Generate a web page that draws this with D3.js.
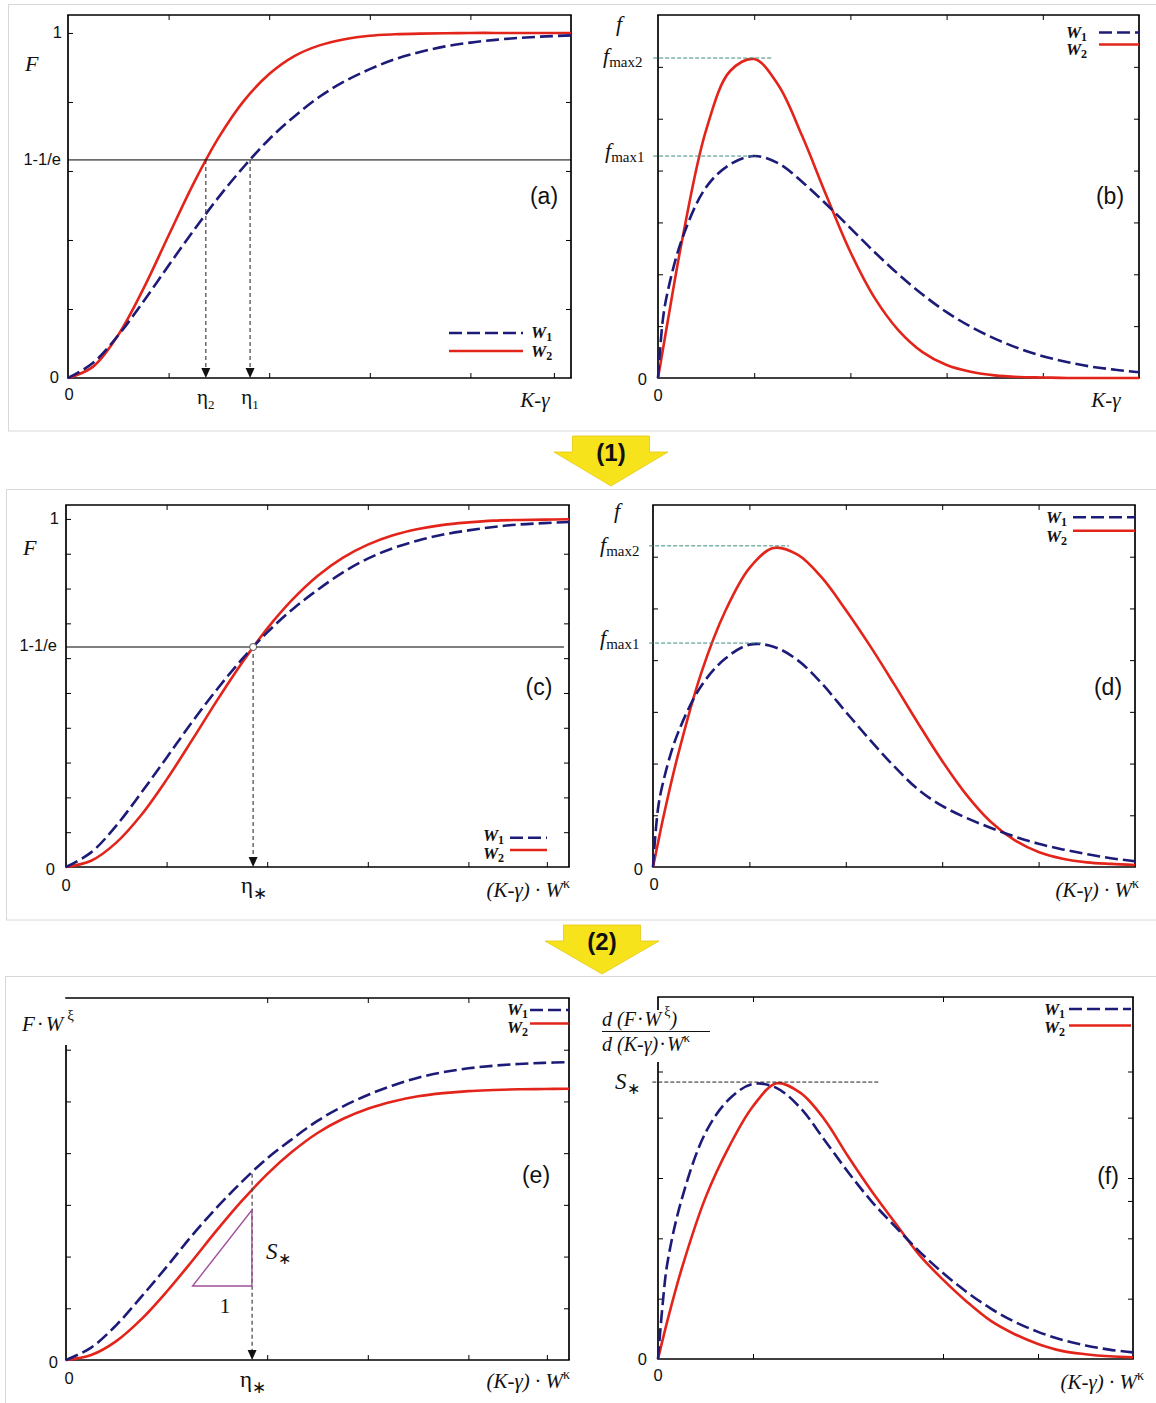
<!DOCTYPE html>
<html><head><meta charset="utf-8">
<script src="https://cdn.jsdelivr.net/npm/d3@7"></script>
<style>body{margin:0;background:#fff} svg{display:block}</style>
</head><body>
<svg id="c" width="1156" height="1403"></svg>
<script>
// ---------------- DATA ----------------
const xGrid = [0,0.25,0.5,0.75,1,1.25,1.5,1.75,2,2.25,2.5,2.75,3,3.25,3.5,3.75,4,4.25,4.5,4.75,5];
const xFine = [0,0.05,0.1,0.25,0.5,0.75,1,1.25,1.5,1.75,2,2.25,2.5,2.75,3,3.25,3.5,3.75,4,4.25,4.5,4.75,5];
const seriesNames = ["W1","W2"];

// (a) F vs K-γ
const aW1 = [0,0.044,0.124,0.222,0.326,0.428,0.525,0.613,0.692,0.758,0.815,0.860,0.895,0.924,0.945,0.961,0.972,0.980,0.986,0.990,0.993];
const aW2 = [0,0.033,0.125,0.259,0.413,0.565,0.698,0.804,0.881,0.933,0.964,0.982,0.992,0.996,0.998,0.999,1,1,1,1,1];
// (b) f vs K-γ
const bW1 = [0,0.112,0.166,0.268,0.368,0.412,0.428,0.414,0.378,0.335,0.289,0.243,0.200,0.161,0.127,0.099,0.076,0.057,0.042,0.031,0.022,0.016,0.011];
const bW2 = [0,0.054,0.108,0.265,0.478,0.592,0.615,0.565,0.466,0.352,0.243,0.155,0.092,0.050,0.025,0.012,0.005,0.002,0.001,0,0,0,0];
// (c) F vs (K-γ)·W^κ
const cW1 = [0,0.042,0.119,0.214,0.314,0.415,0.510,0.597,0.674,0.740,0.796,0.846,0.886,0.916,0.938,0.955,0.967,0.977,0.984,0.988,0.991];
const cW2 = [0,0.018,0.070,0.150,0.251,0.363,0.478,0.587,0.685,0.768,0.836,0.888,0.926,0.953,0.971,0.983,0.990,0.995,0.997,0.998,0.999];
// (d) f vs (K-γ)·W^κ
const dW1 = [0,0.110,0.160,0.255,0.350,0.403,0.430,0.426,0.400,0.355,0.300,0.246,0.195,0.150,0.118,0.095,0.076,0.059,0.045,0.034,0.025,0.017,0.011];
const dW2 = [0,0.045,0.090,0.210,0.375,0.495,0.578,0.617,0.604,0.560,0.497,0.428,0.354,0.278,0.205,0.140,0.088,0.052,0.029,0.016,0.009,0.006,0.004];
// (e) F·W^ξ
const eW1 = [0,0.048,0.135,0.245,0.360,0.480,0.590,0.690,0.780,0.855,0.925,0.980,1.025,1.062,1.092,1.113,1.128,1.138,1.145,1.149,1.152];
const eW2 = [0,0.019,0.073,0.158,0.264,0.381,0.502,0.616,0.719,0.806,0.878,0.932,0.972,1.000,1.020,1.032,1.040,1.044,1.047,1.048,1.049];
// (f) derivative
const fW1 = [0,0.185,0.320,0.530,0.750,0.862,0.912,0.898,0.832,0.727,0.620,0.522,0.438,0.357,0.285,0.222,0.168,0.124,0.090,0.064,0.045,0.031,0.022];
const fW2 = [0,0.065,0.128,0.300,0.535,0.705,0.838,0.914,0.882,0.795,0.672,0.556,0.450,0.345,0.263,0.190,0.127,0.083,0.050,0.027,0.016,0.009,0.0055];

// annotation values (data units)
const oneMinusInvE = 0.632;
const etaA = [1.37, 1.81];      // η2, η1
const etaC = 1.86, etaE = 1.85;
const fmaxB = [0.617, 0.428], fmaxBEnd = [1.19, 1.02];
const fmaxD = [0.621, 0.433], fmaxDEnd = [1.41, 1.14];
const sStar = 0.918, sStarEnd = 2.34;
const triE = [[1.258,0.286],[1.848,0.286],[1.848,0.58]];

// ---------------- DRAWING ----------------
const svg = d3.select('#c');
const SERIF = '"Liberation Serif","Times New Roman",serif';
const SANS = '"Liberation Sans",Arial,sans-serif';
const BLUE = '#1d1b78', RED = '#e3241b', TEAL = '#3d8c7e';

function rich(g, x, y, segs, o={}) {
  const t = g.append('text').attr('x',x).attr('y',y)
    .attr('text-anchor', o.anchor||'start')
    .attr('font-family', o.family||SERIF)
    .attr('font-size', o.size||20)
    .attr('font-style', o.style||'italic')
    .attr('font-weight', o.weight||'normal')
    .attr('fill', '#111');
  let cur = 0;
  segs.forEach(s => {
    if (typeof s === 'string') s = {t:s};
    const sp = t.append('tspan').text(s.t);
    const off = s.dy||0;
    if (off-cur !== 0) sp.attr('dy', off-cur);
    cur = off;
    if (s.size) sp.attr('font-size', s.size);
    if (s.style) sp.attr('font-style', s.style);
    if (s.weight) sp.attr('font-weight', s.weight);
    if (s.family) sp.attr('font-family', s.family);
    if (s.dx) sp.attr('dx', s.dx);
  });
  return t;
}
const sans = (g,x,y,t,anchor,size) => rich(g,x,y,[t],{family:SANS,style:'normal',size:size||16.5,anchor:anchor||'end'});

function clean(s){ s.select('.domain').remove(); s.selectAll('line').attr('stroke','#000').attr('stroke-width',1); }

function panel(cfg, xs, s1, s2) {
  const g = svg.append('g');
  const x = d3.scaleLinear().domain([0,5]).range([cfg.x0,cfg.x1]);
  const y = d3.scaleLinear().domain([0,cfg.yMax]).range([cfg.y1,cfg.y0]);
  const tl = 5;
  g.append('g').attr('transform',`translate(0,${cfg.y1})`).call(d3.axisBottom(x).tickValues(cfg.xtB).tickSize(-tl).tickFormat('')).call(clean);
  g.append('g').attr('transform',`translate(0,${cfg.y0})`).call(d3.axisTop(x).tickValues(cfg.xtT).tickSize(-tl).tickFormat('')).call(clean);
  g.append('g').attr('transform',`translate(${cfg.x0},0)`).call(d3.axisLeft(y).tickValues(cfg.ytL).tickSize(-tl).tickFormat('')).call(clean);
  g.append('g').attr('transform',`translate(${cfg.x1},0)`).call(d3.axisRight(y).tickValues(cfg.ytR).tickSize(-tl).tickFormat('')).call(clean);
  const bw = 1.7;
  const seg = (x1,y1,x2,y2) => g.append('line').attr('x1',x1).attr('y1',y1).attr('x2',x2).attr('y2',y2).attr('stroke','#000').attr('stroke-width',bw);
  seg(cfg.x0-0.8,cfg.y0,cfg.x1+0.8,cfg.y0);
  seg(cfg.x0-0.8,cfg.y1,cfg.x1+0.8,cfg.y1);
  seg(cfg.x1,cfg.y0,cfg.x1,cfg.y1);
  (cfg.leftSegs || [[cfg.y0,cfg.y1]]).forEach(s => seg(cfg.x0,s[0],cfg.x0,s[1]));
  const line = d3.line().x(d=>x(d[0])).y(d=>y(Math.max(0,d[1]))).curve(d3.curveCatmullRom.alpha(0.5));
  const cg = g.append('g');
  cfg.x = x; cfg.y = y; cfg.g = g;
  cfg.drawCurves = () => {
    cg.append('path').datum(xs.map((v,i)=>[v,s2[i]])).attr('d',line).attr('fill','none').attr('stroke',RED).attr('stroke-width',2.6);
    cg.append('path').datum(xs.map((v,i)=>[v,s1[i]])).attr('d',line).attr('fill','none').attr('stroke',BLUE).attr('stroke-width',2.6).attr('stroke-dasharray','13,5');
  };
  return cfg;
}

function legend(g, lx0, lx1, y1, y2, tx, tb1, tb2, anchor) {
  g.append('line').attr('x1',lx0).attr('x2',lx1).attr('y1',y1).attr('y2',y1).attr('stroke',BLUE).attr('stroke-width',2.6).attr('stroke-dasharray','13,5');
  g.append('line').attr('x1',lx0).attr('x2',lx1).attr('y1',y2).attr('y2',y2).attr('stroke',RED).attr('stroke-width',2.6);
  rich(g, tx, tb1, [{t:'W'},{t:'1',dy:3,size:12,style:'normal'}], {size:17,weight:'bold',anchor:anchor||'start'});
  rich(g, tx, tb2, [{t:'W'},{t:'2',dy:3,size:12,style:'normal'}], {size:17,weight:'bold',anchor:anchor||'start'});
}
function vArrow(g, px, yTop, yBot) {
  g.append('line').attr('x1',px).attr('x2',px).attr('y1',yTop).attr('y2',yBot-9).attr('stroke','#444').attr('stroke-width',1.2).attr('stroke-dasharray','4,3');
  g.append('path').attr('d',`M${px-4.5},${yBot-10} L${px+4.5},${yBot-10} L${px},${yBot} Z`).attr('fill','#111');
}
function hDash(g, x1, x2, py, color) {
  g.append('line').attr('x1',x1).attr('x2',x2).attr('y1',py).attr('y2',py).attr('stroke',color).attr('stroke-width',1).attr('stroke-dasharray','4,2');
}
const xLabel = (g, x, y) => rich(g, x, y, [{t:'(K-γ) · W'},{t:'κ',dy:-9,size:14,style:'normal'}], {size:21,anchor:'end'});

// group frames
svg.append('rect').attr('x',8.5).attr('y',4.5).attr('width',1160).attr('height',426.5).attr('fill','none').attr('stroke','#d8d8d8');
svg.append('rect').attr('x',6.5).attr('y',489.5).attr('width',1160).attr('height',430.5).attr('fill','none').attr('stroke','#d8d8d8');
svg.append('rect').attr('x',5.5).attr('y',976.5).attr('width',1160).attr('height',440).attr('fill','none').attr('stroke','#d8d8d8');

// yellow arrows
function yArrow(cx, top, shoulder, tip, label) {
  svg.append('path').attr('d',`M${cx-38.5},${top} L${cx+38.5},${top} L${cx+38.5},${shoulder} L${cx+57},${shoulder} L${cx},${tip} L${cx-57},${shoulder} L${cx-38.5},${shoulder} Z`)
    .attr('fill','#f7e31b').attr('stroke','#e6c812').attr('stroke-width',0.8);
  rich(svg, cx, top+25, [label], {family:SANS,style:'normal',weight:'bold',size:24,anchor:'middle'});
}
yArrow(611, 436, 452, 486, '(1)');
yArrow(602, 925, 941, 974, '(2)');

// ----- (a)
{
  const P = panel({x0:68,x1:571,y0:15,y1:378,yMax:1.052,xtB:[1,2,3,4,4.83],xtT:[1,2,3,4],ytL:[0.2,0.4,0.6,0.8,1],ytR:[0.2,0.4,0.6,0.8,1]}, xGrid, aW1, aW2);
  const {g,x,y} = P;
  g.append('line').attr('x1',x(0)).attr('x2',x(5)).attr('y1',y(oneMinusInvE)).attr('y2',y(oneMinusInvE)).attr('stroke','#000').attr('stroke-width',1);
  etaA.forEach(e => vArrow(g, x(e), y(oneMinusInvE), y(0)));
  P.drawCurves();
  rich(g, 25, 71, ['F'], {size:22});
  sans(g, 62, 38, '1'); sans(g, 61, 165, '1-1/e'); sans(g, 59, 383, '0');
  sans(g, x(0)+1, 400, '0', 'middle');
  rich(g, x(etaA[0]), 404, [{t:'η'},{t:'2',dy:5,size:13}], {style:'normal',size:21,anchor:'middle'});
  rich(g, x(etaA[1]), 404, [{t:'η'},{t:'1',dy:5,size:13}], {style:'normal',size:21,anchor:'middle'});
  rich(g, 535, 407, ['K-γ'], {size:21,anchor:'middle'});
  sans(g, 544, 204, '(a)', 'middle', 23);
  legend(g, 449, 523, 333, 351, 531, 338, 357);
}
// ----- (b)
{
  const P = panel({x0:658,x1:1139,y0:15,y1:378,yMax:0.7,xtB:[1,2,3,4],xtT:[1,2,3,4],ytL:[0.1,0.2,0.3,0.4,0.5,0.6],ytR:[0.1,0.2,0.3,0.4,0.5,0.6]}, xFine, bW1, bW2);
  const {g,x,y} = P;
  hDash(g, x(-0.05), x(fmaxBEnd[0]), y(fmaxB[0]), TEAL);
  hDash(g, x(-0.05), x(fmaxBEnd[1]), y(fmaxB[1]), TEAL);
  P.drawCurves();
  rich(g, 619, 31, ['f'], {size:22,anchor:'middle'});
  rich(g, 603, 63, [{t:'f'},{t:'max2',dy:4,size:15,style:'normal'}], {size:22});
  rich(g, 605, 158, [{t:'f'},{t:'max1',dy:4,size:15,style:'normal'}], {size:22});
  sans(g, 647, 385, '0');
  sans(g, x(0), 401, '0', 'middle');
  rich(g, 1106, 407, ['K-γ'], {size:21,anchor:'middle'});
  sans(g, 1110, 204, '(b)', 'middle', 23);
  legend(g, 1099, 1139, 32.5, 44.5, 1087, 38, 55, 'end');
}
// ----- (c)
{
  const P = panel({x0:66,x1:569,y0:505,y1:867,yMax:1.04,xtB:[1,2,3,4,4.78],xtT:[1,2,3,4],ytL:[0.1,0.2,0.3,0.4,0.5,0.6,0.7,0.8,0.9,1],ytR:[0.1,0.2,0.3,0.4,0.5,0.6,0.7,0.8,0.9,1]}, xGrid, cW1, cW2);
  const {g,x,y} = P;
  g.append('line').attr('x1',x(0)).attr('x2',x(4.95)).attr('y1',y(oneMinusInvE)).attr('y2',y(oneMinusInvE)).attr('stroke','#000').attr('stroke-width',1);
  vArrow(g, x(etaC), y(oneMinusInvE), y(0));
  P.drawCurves();
  g.append('circle').attr('cx',x(etaC)).attr('cy',y(oneMinusInvE)).attr('r',3.5).attr('fill','#fff').attr('stroke','#555').attr('stroke-width',1);
  rich(g, 23, 555, ['F'], {size:22});
  sans(g, 59, 524, '1'); sans(g, 57, 651, '1-1/e'); sans(g, 55, 875, '0');
  sans(g, x(0), 891, '0', 'middle');
  rich(g, x(etaC)+1, 893, [{t:'η'},{t:'∗',dy:6,size:17}], {style:'normal',size:23,anchor:'middle'});
  xLabel(g, 570, 897);
  sans(g, 539, 695, '(c)', 'middle', 23);
  legend(g, 510, 547, 837.7, 850, 504, 841, 859, 'end');
}
// ----- (d)
{
  const P = panel({x0:653,x1:1135,y0:505,y1:867,yMax:0.7,xtB:[1,2,3,4],xtT:[1,2,3,4],ytL:[0.1,0.2,0.3,0.4,0.5,0.6],ytR:[0.1,0.2,0.3,0.4,0.5,0.6]}, xFine, dW1, dW2);
  const {g,x,y} = P;
  hDash(g, x(-0.04), x(fmaxDEnd[0]), y(fmaxD[0]), TEAL);
  hDash(g, x(-0.04), x(fmaxDEnd[1]), y(fmaxD[1]), TEAL);
  P.drawCurves();
  rich(g, 617, 518, ['f'], {size:22,anchor:'middle'});
  rich(g, 600, 552, [{t:'f'},{t:'max2',dy:4,size:15,style:'normal'}], {size:22});
  rich(g, 600, 645, [{t:'f'},{t:'max1',dy:4,size:15,style:'normal'}], {size:22});
  sans(g, 643, 875, '0');
  sans(g, x(0)+1, 890, '0', 'middle');
  xLabel(g, 1139, 897);
  sans(g, 1108, 695, '(d)', 'middle', 23);
  legend(g, 1073, 1135, 517.3, 530.7, 1067, 523, 542, 'end');
}
// ----- (e)
{
  const P = panel({x0:66,x1:569,y0:998,y1:1360,yMax:1.4,xtB:[2,3,4,4.78],xtT:[2,3,4],ytL:[0.2,0.4,0.6,0.8,1,1.2],ytR:[0.2,0.4,0.6,0.8,1,1.2],leftSegs:[[1045,1360]]}, xGrid, eW1, eW2);
  const {g,x,y} = P;
  vArrow(g, x(etaE), y(0.72), y(0));
  g.append('path').attr('d', d3.line()(triE.map(p=>[x(p[0]),y(p[1])])) + 'Z').attr('fill','none').attr('stroke','#a0509a').attr('stroke-width',1.4);
  P.drawCurves();
  rich(g, 22, 1031, [{t:'F'},{t:'·',style:'normal',dx:2},{t:'W',dx:2},{t:'ξ',dy:-11,size:15,style:'normal',dx:4}], {size:21});
  sans(g, 58, 1368, '0');
  sans(g, x(0)+3, 1384, '0', 'middle');
  rich(g, x(etaE)+1, 1387, [{t:'η'},{t:'∗',dy:6,size:17}], {style:'normal',size:23,anchor:'middle'});
  rich(g, 225, 1313, ['1'], {style:'normal',size:21,anchor:'middle'});
  rich(g, 266, 1259, [{t:'S'},{t:'∗',dy:5,size:16,style:'normal'}], {size:23});
  xLabel(g, 570, 1388);
  sans(g, 536, 1183, '(e)', 'middle', 23);
  legend(g, 530, 568.5, 1010, 1023.5, 528, 1015, 1033, 'end');
}
// ----- (f)
{
  const P = panel({x0:658,x1:1133,y0:997,y1:1359,yMax:1.2,xtB:[1,3,4],xtT:[1,3],ytL:[0.2,0.4,0.6,0.8,0.953],ytR:[0.2,0.4,0.524,0.6,0.8,0.953],leftSegs:[[997,1010],[1062,1359]]}, xFine, fW1, fW2);
  const {g,x,y} = P;
  hDash(g, x(-0.06), x(sStarEnd), y(sStar), '#222');
  P.drawCurves();
  rich(g, 602, 1026, [{t:'d  (F'},{t:'·',style:'normal',dx:1},{t:'W',dx:1},{t:'ξ',dy:-10,size:14,style:'normal',dx:3},{t:')',dy:0}], {size:20});
  g.append('line').attr('x1',602).attr('x2',710).attr('y1',1031.5).attr('y2',1031.5).attr('stroke','#111').attr('stroke-width',1);
  rich(g, 602, 1051, [{t:'d (K-γ)'},{t:'·',style:'normal',dx:1},{t:'W',dx:1},{t:'κ',dy:-9,size:13,style:'normal'}], {size:20});
  rich(g, 615, 1089, [{t:'S'},{t:'∗',dy:5,size:16,style:'normal'}], {size:23});
  sans(g, 647, 1365, '0');
  sans(g, x(0), 1381, '0', 'middle');
  xLabel(g, 1144, 1389);
  sans(g, 1108, 1184, '(f)', 'middle', 23);
  legend(g, 1069, 1131, 1009, 1025.5, 1065, 1015, 1033, 'end');
}
</script>
</body></html>
